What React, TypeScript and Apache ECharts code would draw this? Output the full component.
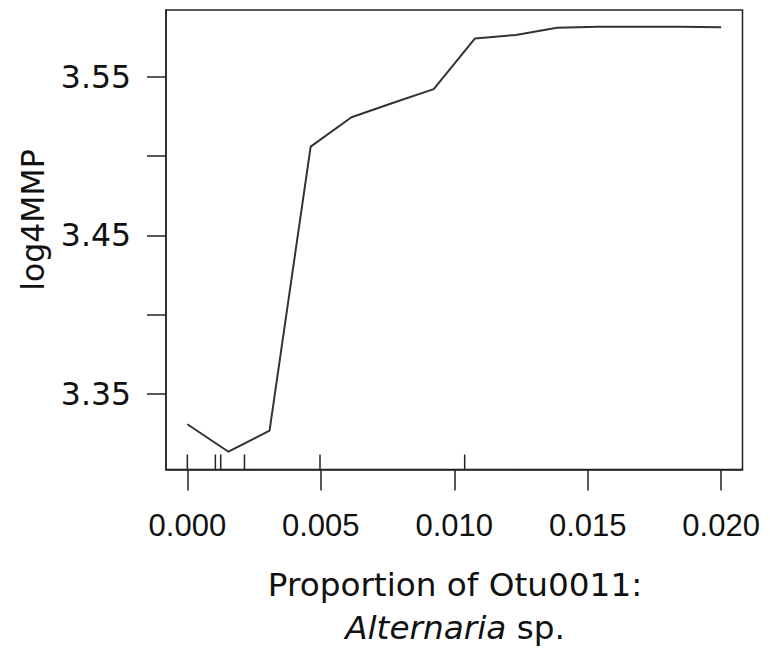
import React, { useEffect, useRef } from "react";
import * as echarts from "echarts";

const xValues = [0, 0.00154, 0.00308, 0.00462, 0.00615, 0.00769, 0.00923, 0.01077, 0.01231, 0.01385, 0.01538, 0.01692, 0.01846, 0.02];
const yValues = [3.3309, 3.3136, 3.3269, 3.5059, 3.5244, 3.5334, 3.5421, 3.574, 3.5763, 3.5808, 3.5815, 3.5815, 3.5815, 3.5812];
const rugValues = [0, 0.00105, 0.00125, 0.00214, 0.00497, 0.01039];
const xTicks = [0, 0.005, 0.01, 0.015, 0.02];
const yTicks = [3.35, 3.4, 3.45, 3.5, 3.55];
const yTickLabels = [3.35, 3.45, 3.55];

const X_MIN = -0.0008;
const X_MAX = 0.0208;
const Y_MIN = 3.3024;
const Y_MAX = 3.592;

export default function App() {
  const ref = useRef<HTMLDivElement>(null);
  useEffect(() => {
    if (!ref.current) return;
    const chart = echarts.init(ref.current, null, { renderer: "svg" });
    const lineData = xValues.map((x, i) => [x, yValues[i]]);
    chart.setOption({
      animation: false,
      backgroundColor: "#ffffff",
      grid: {
        left: 166,
        top: 10,
        width: 576.5,
        height: 459.5,
        show: true,
        borderColor: "#222",
        borderWidth: 1.5,
        backgroundColor: "transparent",
      },
      xAxis: {
        type: "value",
        min: X_MIN,
        max: X_MAX,
        splitLine: { show: false },
        axisLine: { show: true, onZero: false, lineStyle: { color: "#222", width: 1.5 } },
        axisTick: {
          show: true,
          inside: false,
          length: 21,
          customValues: xTicks,
          lineStyle: { color: "#222", width: 1.5 },
        },
        axisLabel: {
          show: true,
          customValues: xTicks,
          margin: 40,
          color: "#111",
          fontFamily: "'Liberation Sans', Arial, sans-serif",
          fontSize: 31,
          formatter: (v: number) => v.toFixed(3),
        },
      },
      yAxis: {
        type: "value",
        min: Y_MIN,
        max: Y_MAX,
        splitLine: { show: false },
        axisLine: { show: true, onZero: false, lineStyle: { color: "#222", width: 1.5 } },
        axisTick: {
          show: true,
          inside: false,
          length: 19,
          customValues: yTicks,
          lineStyle: { color: "#222", width: 1.5 },
        },
        axisLabel: {
          show: true,
          customValues: yTickLabels,
          margin: 35,
          color: "#111",
          fontFamily: "'DejaVu Sans', Verdana, sans-serif",
          fontSize: 31.5,
          formatter: (v: number) => v.toFixed(2),
        },
      },
      graphic: [
        {
          type: "text",
          x: 33,
          y: 220,
          rotation: Math.PI / 2,
          style: {
            text: "log4MMP",
            fontFamily: "'DejaVu Sans', Verdana, sans-serif",
            fontSize: 31.5,
            fill: "#111",
            align: "center",
            verticalAlign: "middle",
          },
        },
        {
          type: "text",
          x: 455,
          y: 585,
          style: {
            text: "Proportion of Otu0011:",
            fontFamily: "'DejaVu Sans', Verdana, sans-serif",
            fontSize: 32.7,
            fill: "#111",
            align: "center",
            verticalAlign: "middle",
          },
        },
        {
          type: "text",
          x: 455,
          y: 628,
          style: {
            text: "{i|Alternaria} sp.",
            fontFamily: "'DejaVu Sans', Verdana, sans-serif",
            fontSize: 32.7,
            fill: "#111",
            align: "center",
            verticalAlign: "middle",
            rich: {
              i: {
                fontStyle: "italic",
                fontFamily: "'DejaVu Sans', Verdana, sans-serif",
                fontSize: 32.7,
                fill: "#111",
              },
            },
          },
        },
      ],
      series: [
        {
          type: "line",
          data: lineData,
          symbol: "none",
          lineStyle: { color: "#333", width: 2 },
          silent: true,
        },
        {
          type: "custom",
          data: rugValues.map((v) => [v]),
          silent: true,
          clip: false,
          renderItem: (params: any, api: any) => {
            const p = api.coord([api.value(0), Y_MIN]);
            return {
              type: "line",
              shape: { x1: p[0], y1: p[1], x2: p[0], y2: p[1] - 15 },
              style: { stroke: "#222", lineWidth: 1.5 },
            };
          },
        },
      ],
    });
    return () => chart.dispose();
  }, []);
  return (
    <div
      ref={ref}
      style={{ position: "fixed", left: 0, top: 0, width: 770, height: 661, background: "#fff" }}
    />
  );
}
